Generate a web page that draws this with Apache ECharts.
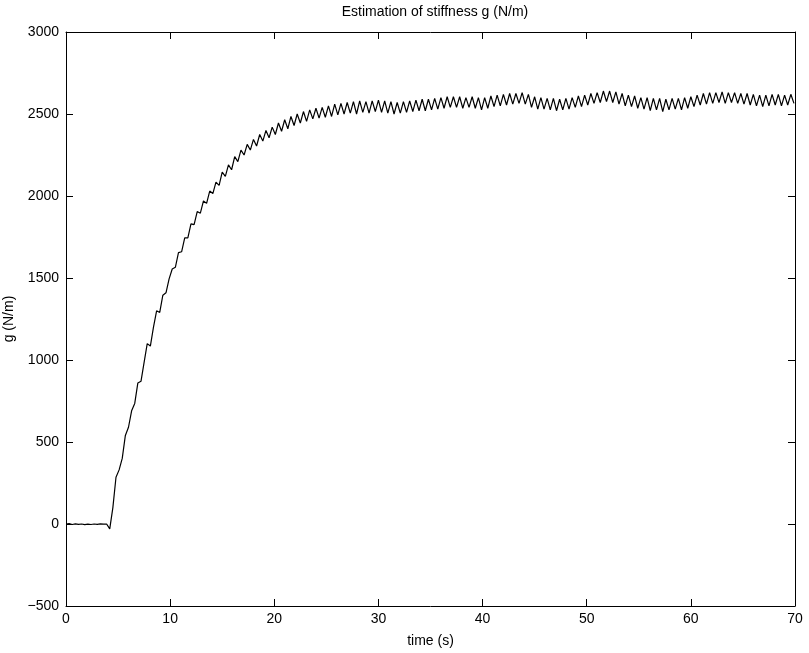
<!DOCTYPE html>
<html>
<head>
<meta charset="utf-8">
<script src="https://cdn.jsdelivr.net/npm/echarts@6/dist/echarts.min.js"></script>
<style>html,body{margin:0;padding:0;background:#fff}#c{width:809px;height:653px}</style>
</head>
<body>
<div id="c"></div>
<script>
var titleText = 'Estimation of stiffness g (N/m)';
var xName = 'time (s)';
var yName = 'g (N/m)';
var xTicks = [0, 10, 20, 30, 40, 50, 60, 70];
var yTicks = [-500, 0, 500, 1000, 1500, 2000, 2500, 3000];
var sampleStep = 0.3; // seconds between read-off samples
var gValues = [
  0, 2, -3, 1, -2, 0, -4, -1, -3, 0, -2, 1, -1, 0,
  -30, 100, 285, 330, 400, 540, 590, 690, 735, 860,
  870, 985, 1100, 1085, 1200, 1300, 1290, 1395, 1410, 1495,
  1555, 1565, 1655, 1660, 1745, 1745, 1830, 1825, 1905, 1895,
  1970, 1955, 2030, 2015, 2085, 2065, 2145, 2120, 2190, 2160,
  2240, 2210, 2280, 2250, 2315, 2280, 2345, 2305, 2375, 2335,
  2400, 2355, 2420, 2375, 2445, 2395, 2465, 2410, 2485, 2430,
  2500, 2445, 2515, 2455, 2525, 2470, 2535, 2475, 2540, 2480,
  2550, 2485, 2560, 2495, 2565, 2500, 2570, 2505, 2575, 2500,
  2580, 2510, 2575, 2505, 2580, 2515, 2585, 2510, 2580, 2505,
  2575, 2500, 2570, 2505, 2575, 2510, 2580, 2515, 2585, 2520,
  2590, 2520, 2590, 2525, 2595, 2530, 2600, 2535, 2605, 2540,
  2605, 2540, 2605, 2535, 2600, 2540, 2605, 2535, 2600, 2525,
  2600, 2535, 2610, 2545, 2615, 2550, 2620, 2555, 2625, 2560,
  2625, 2565, 2630, 2560, 2620, 2540, 2605, 2530, 2600, 2530,
  2595, 2525, 2595, 2520, 2590, 2525, 2595, 2530, 2600, 2540,
  2610, 2545, 2615, 2555, 2625, 2565, 2630, 2570, 2640, 2575,
  2640, 2570, 2635, 2560, 2625, 2550, 2615, 2545, 2610, 2535,
  2600, 2530, 2600, 2520, 2595, 2525, 2595, 2515, 2590, 2525,
  2595, 2530, 2595, 2525, 2600, 2535, 2605, 2545, 2615, 2555,
  2625, 2560, 2630, 2565, 2630, 2570, 2635, 2565, 2630, 2570,
  2630, 2565, 2625, 2560, 2625, 2555, 2620, 2550, 2615, 2545,
  2615, 2550, 2620, 2555, 2620, 2550, 2615, 2555, 2620, 2565
];

var seriesData = gValues.map(function (v, i) {
  return [+(i * sampleStep).toFixed(2), v];
});

var font = 'Liberation Sans, Arial, Helvetica, sans-serif';
var minusFmt = function (v) { return String(v).replace('-', '\u2212'); };

var chart = echarts.init(document.getElementById('c'), null, { renderer: 'canvas' });
var axisLineStyle = { show: true, onZero: false, lineStyle: { color: '#000', width: 1 } };
var tickStyle = { show: true, inside: true, length: 7, lineStyle: { color: '#000', width: 1 } };

chart.setOption({
  animation: false,
  backgroundColor: '#fff',
  title: {
    text: titleText,
    left: 430, top: 0, textAlign: 'center',
    textStyle: { fontFamily: font, fontSize: 14, fontWeight: 'normal', color: '#000' }
  },
  grid: { left: 66, top: 32, width: 729, height: 574, containLabel: false, outerBoundsMode: 'none' },
  xAxis: [{
    type: 'value', min: xTicks[0], max: xTicks[xTicks.length - 1], interval: 10,
    position: 'bottom',
    name: xName, nameLocation: 'middle', nameGap: 28,
    nameTextStyle: { fontFamily: font, fontSize: 14, color: '#000' },
    axisLine: axisLineStyle, axisTick: tickStyle,
    axisLabel: { fontFamily: font, fontSize: 14, color: '#000', margin: 6 },
    splitLine: { show: false }
  }, {
    type: 'value', min: xTicks[0], max: xTicks[xTicks.length - 1], interval: 10,
    position: 'top',
    axisLine: axisLineStyle, axisTick: tickStyle,
    axisLabel: { show: false }, splitLine: { show: false }
  }],
  yAxis: [{
    type: 'value', min: yTicks[0], max: yTicks[yTicks.length - 1], interval: 500,
    position: 'left',
    name: yName, nameLocation: 'middle', nameGap: 41, nameRotate: 90,
    nameTextStyle: { fontFamily: font, fontSize: 14, color: '#000' },
    axisLine: axisLineStyle, axisTick: tickStyle,
    axisLabel: { fontFamily: font, fontSize: 14, color: '#000', margin: 7, formatter: minusFmt },
    splitLine: { show: false }
  }, {
    type: 'value', min: yTicks[0], max: yTicks[yTicks.length - 1], interval: 500,
    position: 'right',
    axisLine: axisLineStyle, axisTick: tickStyle,
    axisLabel: { show: false }, splitLine: { show: false }
  }],
  series: [{
    type: 'line',
    xAxisIndex: 0, yAxisIndex: 0,
    data: seriesData,
    showSymbol: false, symbol: 'none',
    lineStyle: { color: '#000', width: 1.2 },
    silent: true
  }]
});
</script>
</body>
</html>
